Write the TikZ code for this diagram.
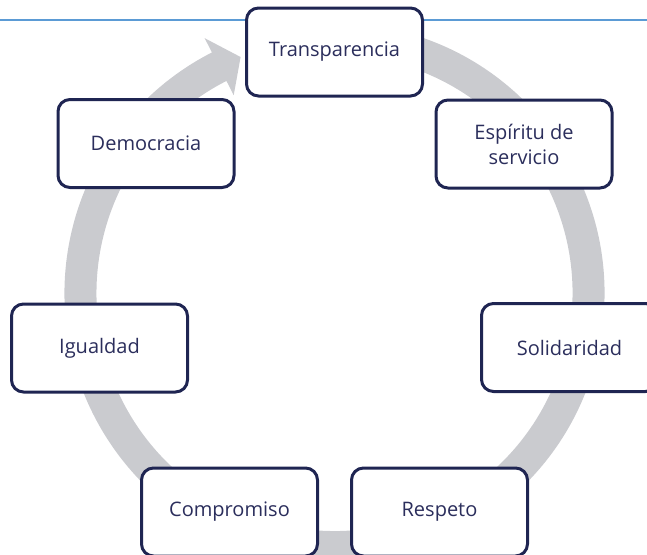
\documentclass[tikz,border=0pt]{standalone}
\usepackage{fontspec}
\setmainfont{Open Sans}
\definecolor{arcgray}{HTML}{CACBCF}
\definecolor{boxline}{HTML}{1F2552}
\definecolor{boxtext}{HTML}{2B2E5C}
\definecolor{topblue}{HTML}{5B9BD5}
\tikzset{
  valuebox/.style={draw=boxline, line width=3pt, fill=white, rounded corners=12pt,
    minimum width=176pt, minimum height=88pt, align=center, text=boxtext,
    font=\fontsize{20}{25}\selectfont, inner sep=2pt}
}
\begin{document}
\begin{tikzpicture}[x=1pt,y=1pt]
\useasboundingbox (0,0) rectangle (647,-554);
% top blue rule
\coordinate (L) at (0,-20);
\coordinate (Rr) at (647,-20);
\draw[topblue, line width=2pt] (L) -- (Rr);
% circular arrow
\begin{scope}[shift={(334.5,-293)}]
\fill[arcgray] (78:270) arc[start angle=78, end angle=-243, radius=270]
  -- (-243:286) -- (-248.3:254) -- (-243:222) -- (-243:238)
  arc[start angle=-243, end angle=78, radius=238] -- cycle;
\end{scope}
% nodes
\node[valuebox] (trans) at (334.5,-52) {Transparencia};
\node[valuebox] (espi) at (524,-144) {Espíritu de\\servicio};
\node[valuebox] (soli) at (569.5,-347.5) {Solidaridad};
\node[valuebox] (resp) at (439.5,-512) {Respeto};
\node[valuebox] (comp) at (229.5,-512) {Compromiso};
\node[valuebox] (igua) at (99.5,-348) {Igualdad};
\node[valuebox] (demo) at (146,-143.5) {Democracia};
\end{tikzpicture}
\end{document}
